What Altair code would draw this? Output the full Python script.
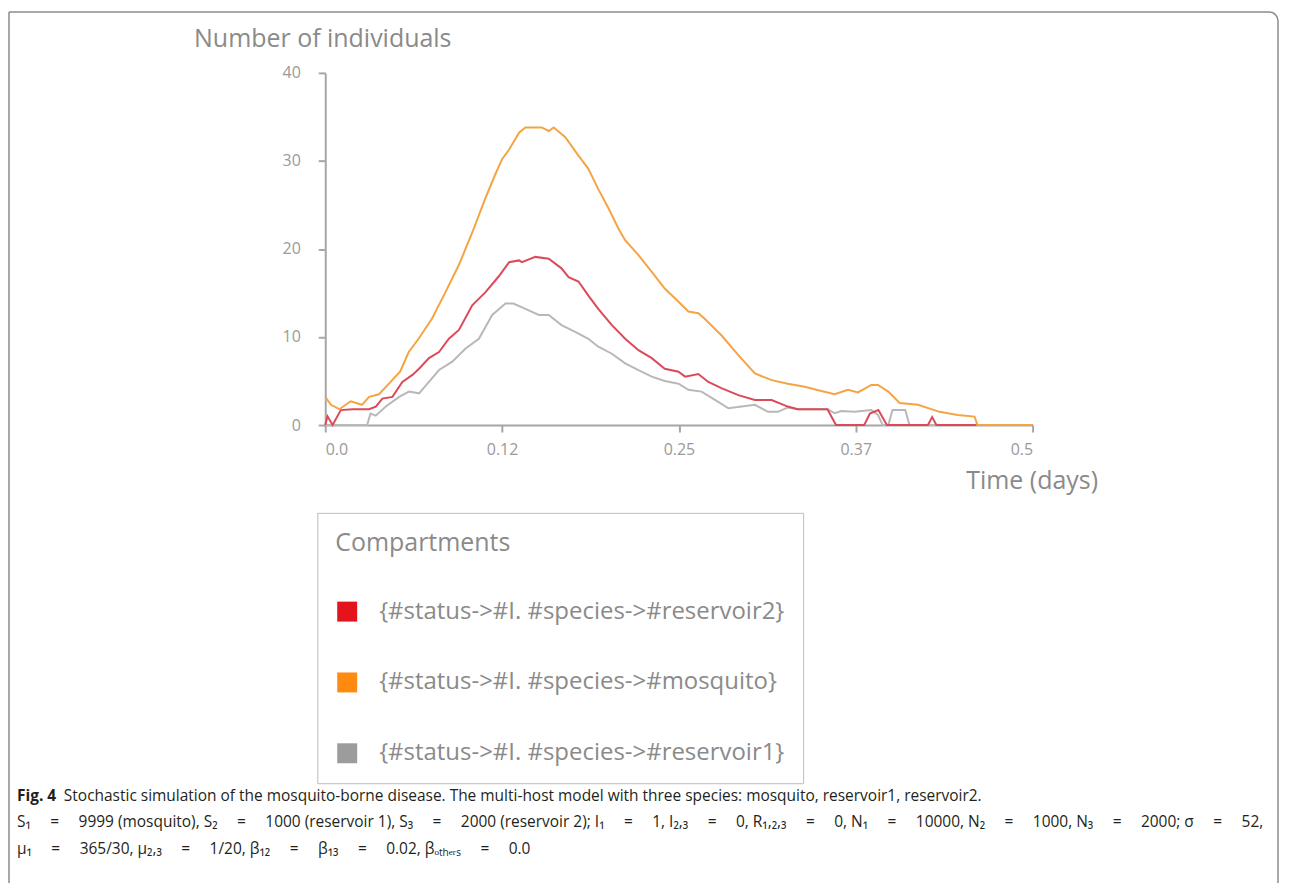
import altair as alt
import pandas as pd

# ---- data ----
series_names = [
    "{#status->#I. #species->#reservoir2}",
    "{#status->#I. #species->#mosquito}",
    "{#status->#I. #species->#reservoir1}",
]

mosq_t = [0.000, 0.004, 0.010, 0.018, 0.026, 0.031, 0.038, 0.045, 0.053, 0.059, 0.066, 0.0755,
          0.085, 0.0945, 0.104, 0.113, 0.120, 0.125, 0.130, 0.137, 0.1415, 0.153, 0.158, 0.1615,
          0.1697, 0.179, 0.186, 0.193, 0.2003, 0.2073, 0.212, 0.2214, 0.2308, 0.240, 0.2497,
          0.2567, 0.2637, 0.268, 0.280, 0.292, 0.3037, 0.3155, 0.327, 0.339, 0.3507, 0.360,
          0.3695, 0.3766, 0.386, 0.3907, 0.398, 0.406, 0.419, 0.4342, 0.447, 0.459, 0.461, 0.500]
mosq_v = [3.2, 2.3, 1.8, 2.7, 2.3, 3.2, 3.5, 4.7, 6.1, 8.3, 9.8, 12.1,
          15.1, 18.2, 21.9, 25.7, 28.4, 30.2, 31.3, 33.2, 33.8, 33.8, 33.4, 33.8,
          32.7, 30.6, 29.1, 26.8, 24.6, 22.3, 21.0, 19.3, 17.4, 15.5, 14.0,
          12.9, 12.7, 12.1, 10.2, 7.95, 5.87, 5.1, 4.7, 4.36, 3.87, 3.5,
          4.0, 3.7, 4.55, 4.55, 3.8, 2.5, 2.3, 1.5, 1.15, 0.96, 0.0, 0.0]

res2_t = [0.000, 0.0016, 0.0052, 0.011, 0.0193, 0.031, 0.0357, 0.0404, 0.0475, 0.0545, 0.0616,
          0.0663, 0.0733, 0.0804, 0.0874, 0.0945, 0.1039, 0.1133, 0.1227, 0.130, 0.137, 0.139,
          0.1485, 0.158, 0.167, 0.172, 0.179, 0.186, 0.193, 0.2026, 0.212, 0.2214, 0.2308,
          0.240, 0.2497, 0.2544, 0.2637, 0.2708, 0.280, 0.292, 0.3037, 0.3155, 0.327, 0.334,
          0.355, 0.361, 0.381, 0.385, 0.391, 0.397, 0.426, 0.429, 0.432, 0.500]
res2_v = [0.0, 1.0, 0.0, 1.7, 1.8, 1.8, 2.1, 3.0, 3.2, 4.9, 5.7,
          6.4, 7.6, 8.3, 9.8, 10.8, 13.6, 15.1, 16.9, 18.5, 18.7, 18.5,
          19.1, 18.9, 17.8, 16.8, 16.3, 14.7, 13.2, 11.35, 9.8, 8.5, 7.6,
          6.4, 6.05, 5.5, 5.8, 4.9, 4.2, 3.4, 2.85, 2.85, 2.1, 1.8,
          1.8, 0.0, 0.0, 1.3, 1.7, 0.0, 0.0, 0.9, 0.0, 0.0]

res1_t = [0.000, 0.0296, 0.032, 0.0357, 0.0428, 0.0522, 0.0592, 0.0663, 0.0733, 0.0804, 0.0898,
          0.0992, 0.1086, 0.118, 0.1274, 0.133, 0.1415, 0.151, 0.158, 0.167, 0.1763, 0.186,
          0.193, 0.2026, 0.212, 0.2214, 0.2308, 0.240, 0.2497, 0.2567, 0.266, 0.2755, 0.285,
          0.2943, 0.3037, 0.313, 0.320, 0.327, 0.334, 0.355, 0.360, 0.3648, 0.374, 0.386,
          0.3907, 0.394, 0.398, 0.401, 0.410, 0.413, 0.500]
res1_v = [0.0, 0.0, 1.3, 1.07, 2.1, 3.2, 3.8, 3.6, 4.9, 6.25, 7.2,
          8.7, 9.8, 12.5, 13.8, 13.8, 13.2, 12.5, 12.5, 11.35, 10.6, 9.8,
          8.9, 8.1, 7.0, 6.25, 5.5, 5.0, 4.7, 4.0, 3.8, 2.85, 1.9,
          2.1, 2.3, 1.5, 1.5, 2.0, 1.8, 1.8, 1.35, 1.6, 1.5, 1.7,
          1.15, 0.0, 0.0, 1.7, 1.7, 0.0, 0.0]

x_tick_values = [0, 0.125, 0.25, 0.375, 0.5]
x_tick_labels = ["0.0", "0.12", "0.25", "0.37", "0.5"]
y_tick_values = [0, 10, 20, 30, 40]

line_colors = ["#dc4a5a", "#f5a444", "#b8b8b8"]
legend_colors = ["#e3141c", "#ff8a12", "#9c9c9c"]

EQ = " \u2003=\u2003 "   # math-style wide spacing around "="
caption_bold = "Fig. 4"
caption_1 = ("Stochastic simulation of the mosquito-borne disease. The multi-host model with "
             "three species: mosquito, reservoir1, reservoir2.")
caption_2 = ("S\u2081" + EQ + "9999 (mosquito), S\u2082" + EQ + "1000 (reservoir 1), S\u2083" + EQ +
             "2000 (reservoir 2); I\u2081" + EQ + "1, I\u2082,\u2083" + EQ + "0, R\u2081,\u2082,\u2083" + EQ +
             "0, N\u2081" + EQ + "10000, N\u2082" + EQ + "1000, N\u2083" + EQ + "2000; \u03c3" + EQ + "52,")
caption_3 = ("\u03bc\u2081" + EQ + "365/30, \u03bc\u2082,\u2083" + EQ + "1/20, \u03b2\u2081\u2082" + EQ +
             "\u03b2\u2081\u2083" + EQ + "0.02, \u03b2\u2092\u209c\u2095\u2091\u1d63\u209b" + EQ + "0.0")

# ---- build table (draw order: gray, red, orange) ----
rows = []
for name, ts, vs in [(series_names[2], res1_t, res1_v),
                     (series_names[0], res2_t, res2_v),
                     (series_names[1], mosq_t, mosq_v)]:
    for t, v in zip(ts, vs):
        rows.append({"series": name, "t": t, "v": v})
df = pd.DataFrame(rows)

label_expr = " : ".join(
    [f"datum.value == {v} ? '{l}'" for v, l in zip(x_tick_values, x_tick_labels)]
) + " : ''"

FONT = "Open Sans"
AX_COL = "#a6a6a6"

x_enc = alt.X("t:Q", scale=alt.Scale(domain=[0, 0.5], nice=False),
              axis=alt.Axis(values=x_tick_values, labelExpr=label_expr, title="Time (days)",
                            titleX=642, titleY=64, titleAlign="left", titleBaseline="alphabetic",
                            titleFontSize=25, titleFontWeight="normal", titleColor="#8a8a8a",
                            labelFontSize=16, labelColor="#9a9a9a", labelPadding=10,
                            tickSize=7, tickWidth=2, tickColor=AX_COL,
                            domainColor=AX_COL, domainWidth=2, grid=False,
                            labelFont=FONT, titleFont=FONT))
y_enc = alt.Y("v:Q", scale=alt.Scale(domain=[0, 40], nice=False),
              axis=alt.Axis(values=y_tick_values, title="Number of individuals",
                            titleAngle=0, titleX=-132, titleY=-26, titleAlign="left",
                            titleBaseline="alphabetic", titleFontSize=25,
                            titleFontWeight="normal", titleColor="#8a8a8a",
                            labelFontSize=16, labelColor="#9a9a9a", labelPadding=18,
                            tickSize=7, tickWidth=2, tickColor=AX_COL,
                            domainColor=AX_COL, domainWidth=2, grid=False,
                            labelFont=FONT, titleFont=FONT))

lines = alt.Chart(df).mark_line(strokeWidth=2).encode(
    x=x_enc, y=y_enc,
    color=alt.Color("series:N", scale=alt.Scale(domain=series_names, range=line_colors),
                    legend=None),
)

legend_layer = alt.Chart(df).mark_point(shape="square", filled=True, opacity=0, size=10).encode(
    x="t:Q", y="v:Q",
    fill=alt.Fill("series:N", scale=alt.Scale(domain=series_names, range=legend_colors),
                  legend=alt.Legend(title="Compartments", orient="none", legendX=-8, legendY=441,
                                    padding=18, strokeColor="#bdbdbd", fillColor="white",
                                    titleFontSize=25, titleFontWeight="normal",
                                    titleColor="#8a8a8a", titleFont=FONT, titlePadding=44,
                                    labelFontSize=24, labelColor="#8a8a8a", labelFont=FONT,
                                    labelOffset=20, rowPadding=47, symbolType="square",
                                    symbolSize=400, symbolOpacity=1, symbolStrokeWidth=0,
                                    labelLimit=0)),
)


def text_layer(s, x, y, bold=False, size=15.5):
    return alt.Chart(pd.DataFrame({"s": [s]})).mark_text(
        align="left", baseline="alphabetic", font=FONT, fontSize=size,
        fontWeight="bold" if bold else "normal", color="#231f20",
    ).encode(x=alt.value(x), y=alt.value(y), text="s:N")


one = pd.DataFrame({"a": [0]})
border_style = dict(color="#8c8c8c", strokeWidth=1.5)
border_left = alt.Chart(one).mark_rule(**border_style).encode(
    x=alt.value(-317), y=alt.value(-61), y2=alt.value(812))
border_top = alt.Chart(one).mark_rule(**border_style).encode(
    x=alt.value(-317), x2=alt.value(946), y=alt.value(-61))
border_corner = alt.Chart(one).mark_arc(
    stroke="#8c8c8c", strokeWidth=1.5, fill=None, innerRadius=9, outerRadius=9,
    theta=0, theta2=1.5708).encode(x=alt.value(946), y=alt.value(-52))
border_right = alt.Chart(one).mark_rule(**border_style).encode(
    x=alt.value(955), y=alt.value(-52), y2=alt.value(812))

chart = alt.layer(
    border_left, border_top, border_corner, border_right,
    lines, legend_layer,
    text_layer(caption_bold, -309, 730, bold=True),
    text_layer(caption_1, -262, 730),
    text_layer(caption_2, -309, 756),
    text_layer(caption_3, -309, 783),
).resolve_scale(color="independent", fill="independent").properties(
    width=709, height=353, padding=0, background="white"
).configure_view(stroke=None)

chart.save("out.html", embed_options={"renderer": "svg", "actions": False})
